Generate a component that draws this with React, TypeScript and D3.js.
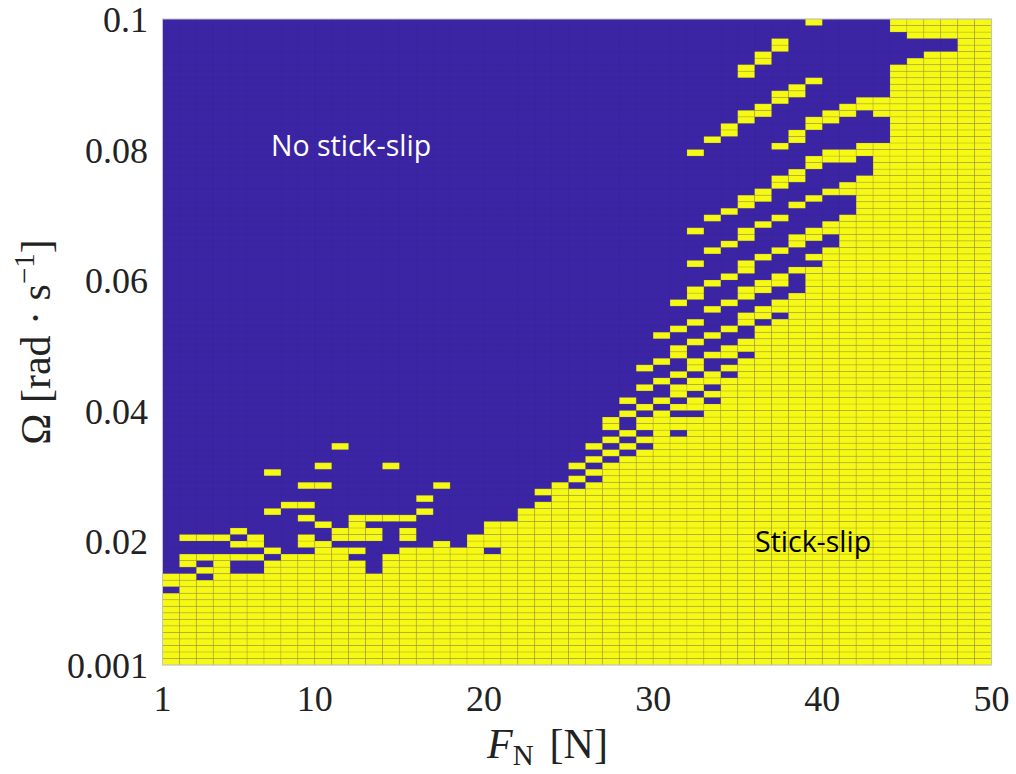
import React from 'react';
import * as d3 from 'd3';

// F_N grid edges (N) and Omega grid (rad/s)
const FN_VALUES: number[] = d3.range(1, 51); // 1..50 -> 49 cells
const OMEGA_VALUES: number[] = d3.range(1, 101).map((k) => k / 1000); // 0.001..0.1 -> 99 cells

const X_TICKS = [1, 10, 20, 30, 40, 50];
const Y_TICKS = [0.001, 0.02, 0.04, 0.06, 0.08, 0.1];
const Y_TICK_LABELS = ['0.001', '0.02', '0.04', '0.06', '0.08', '0.1'];

// Stick-slip (yellow) cells: per F_N column, runs of Omega-row indices [from, to]
const STICK_SLIP_RUNS: number[][][] = [
  [[0, 10], [12, 13]],
  [[0, 13], [15, 16], [19, 19]],
  [[0, 12], [14, 14], [16, 16], [19, 19]],
  [[0, 16], [19, 19]],
  [[0, 13], [16, 16], [18, 18], [20, 20]],
  [[0, 13], [16, 16], [18, 19]],
  [[0, 15], [17, 17], [23, 23], [29, 29]],
  [[0, 16], [24, 24]],
  [[0, 16], [18, 19], [22, 22], [24, 24], [27, 27]],
  [[0, 18], [21, 21], [27, 27], [30, 30]],
  [[0, 17], [19, 20], [33, 33]],
  [[0, 15], [17, 17], [19, 22]],
  [[0, 13], [19, 20], [22, 22]],
  [[0, 16], [22, 22], [30, 30]],
  [[0, 17], [19, 20], [22, 22]],
  [[0, 17], [23, 23], [25, 25]],
  [[0, 18], [27, 27]],
  [[0, 17]],
  [[0, 19]],
  [[0, 16], [18, 21]],
  [[0, 21]],
  [[0, 23]],
  [[0, 24], [26, 26]],
  [[0, 27]],
  [[0, 26], [28, 28], [30, 30]],
  [[0, 27], [29, 29], [31, 31], [33, 33]],
  [[0, 30], [32, 32], [34, 34], [36, 37]],
  [[0, 31], [33, 33], [35, 35], [38, 38], [40, 40]],
  [[0, 32], [34, 34], [36, 37], [39, 39], [42, 42], [45, 45]],
  [[0, 38], [40, 40], [43, 43], [46, 46], [50, 50]],
  [[0, 34], [36, 37], [39, 39], [41, 42], [44, 44], [47, 48], [51, 51], [55, 55]],
  [[0, 37], [39, 40], [42, 43], [45, 46], [49, 49], [52, 52], [56, 57], [61, 61], [66, 66], [78, 78]],
  [[0, 39], [41, 41], [43, 44], [47, 47], [50, 50], [54, 54], [58, 58], [63, 63], [68, 68], [80, 80]],
  [[0, 43], [45, 45], [47, 48], [51, 51], [55, 55], [59, 59], [64, 64], [69, 69], [81, 82]],
  [[0, 46], [48, 49], [52, 53], [56, 57], [60, 61], [65, 66], [70, 71], [83, 84], [90, 91]],
  [[0, 51], [53, 54], [57, 58], [62, 62], [67, 67], [71, 72], [84, 85], [92, 93]],
  [[0, 52], [54, 55], [58, 59], [63, 63], [68, 68], [73, 74], [79, 79], [86, 87], [94, 95]],
  [[0, 56], [60, 60], [64, 65], [70, 70], [74, 75], [80, 81], [87, 88]],
  [[0, 60], [62, 62], [65, 66], [71, 71], [76, 77], [82, 83], [89, 89], [98, 98]],
  [[0, 63], [66, 67], [72, 72], [77, 78], [83, 84]],
  [[0, 68], [72, 73], [77, 78], [84, 85]],
  [[0, 74], [78, 79], [85, 86]],
  [[0, 79], [84, 86]],
  [[0, 91], [97, 98]],
  [[0, 92], [96, 98]],
  [[0, 93], [96, 98]],
  [[0, 93], [96, 98]],
  [[0, 98]],
  [[0, 98]],
];

const BLUE = '#3b25a4';
const YELLOW = '#f6f914';

const W = 1016;
const H = 774;
const PLOT = { left: 162.5, right: 991.5, top: 19, bottom: 665 };

export default function App() {
  const x = d3.scaleLinear().domain([1, 50]).range([PLOT.left, PLOT.right]);
  const y = d3.scaleLinear().domain([0.001, 0.1]).range([PLOT.bottom, PLOT.top]);

  const cells: JSX.Element[] = [];
  STICK_SLIP_RUNS.forEach((runs, c) => {
    const x0 = x(FN_VALUES[c]);
    const x1 = x(FN_VALUES[c + 1]);
    runs.forEach(([a, b]) => {
      for (let r = a; r <= b; r++) {
        const y0 = y(OMEGA_VALUES[r + 1]);
        const y1 = y(OMEGA_VALUES[r]);
        cells.push(
          <rect key={`${c}-${r}`} x={x0} y={y0} width={x1 - x0} height={y1 - y0}
            fill={YELLOW} stroke="#7a7550" strokeOpacity={0.18} strokeWidth={0.8} />
        );
      }
    });
  });

  const serif = '"Liberation Serif", "Times New Roman", serif';
  const sans = '"Open Sans", "Noto Sans", sans-serif';

  return (
    <svg width={W} height={H} style={{ position: 'absolute', left: 0, top: 0, background: '#fff' }}>
      <rect x={PLOT.left} y={PLOT.top} width={PLOT.right - PLOT.left} height={PLOT.bottom - PLOT.top} fill={BLUE} />
      {cells}
      {/* faint grid over blue */}
      <g stroke="#000" strokeOpacity={0.04} strokeWidth={0.8}>
        {FN_VALUES.map((v) => (
          <line key={`v${v}`} x1={x(v)} x2={x(v)} y1={PLOT.top} y2={PLOT.bottom} />
        ))}
        {OMEGA_VALUES.map((v) => (
          <line key={`h${v}`} x1={PLOT.left} x2={PLOT.right} y1={y(v)} y2={y(v)} />
        ))}
      </g>
      <rect x={PLOT.left} y={PLOT.top} width={PLOT.right - PLOT.left} height={PLOT.bottom - PLOT.top}
        fill="none" stroke="#c4c4c4" strokeWidth={1} />

      <g fontFamily={serif} fontSize={36} fill="#222">
        {X_TICKS.map((t) => (
          <text key={`xt${t}`} x={x(t)} y={711} textAnchor="middle">{t}</text>
        ))}
        {Y_TICKS.map((t, i) => (
          <text key={`yt${t}`} x={148} y={y(t) + 13} textAnchor="end">{Y_TICK_LABELS[i]}</text>
        ))}
        <text x={487} y={758} fontSize={42}>
          <tspan fontStyle="italic">F</tspan>
          <tspan fontSize={29} dy={7}>N</tspan>
          <tspan dy={-7} dx={16}>[N]</tspan>
        </text>
        <text transform="translate(50,342) rotate(-90)" textAnchor="middle" fontSize={42}>
          <tspan>{'\u03A9 [rad \u00B7 s'}</tspan>
          <tspan fontSize={29} dy={-16}>{'\u22121'}</tspan>
          <tspan dy={16}>]</tspan>
        </text>
      </g>

      <text x={271} y={156} fontFamily={sans} fontSize={28.5} fill="#fff">No stick-slip</text>
      <text x={755} y={552} fontFamily={sans} fontSize={28.5} fill="#000">Stick-slip</text>
    </svg>
  );
}
